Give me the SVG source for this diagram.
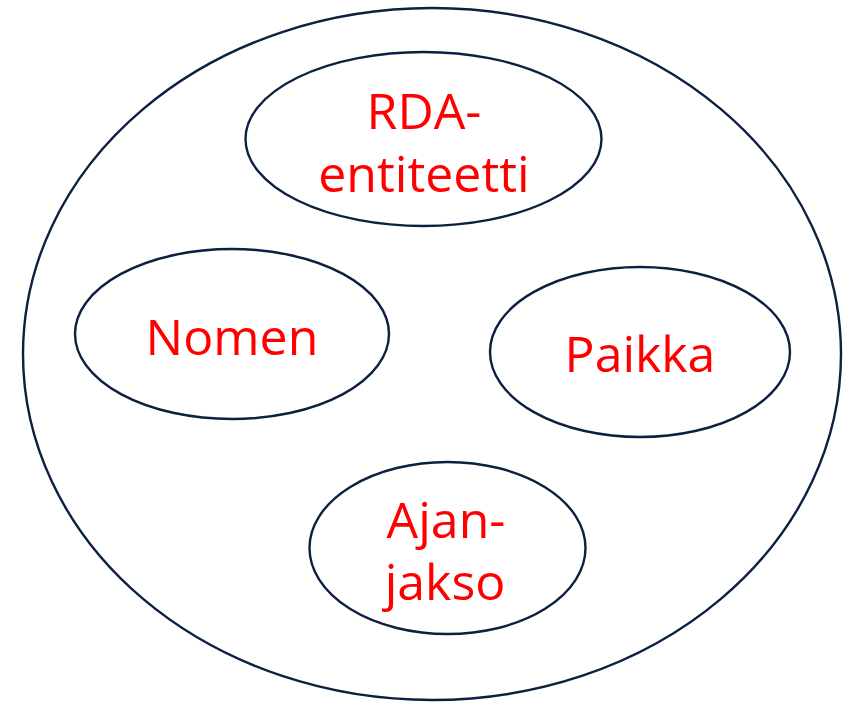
<svg xmlns="http://www.w3.org/2000/svg" width="848" height="708" viewBox="0 0 848 708">
<style>
.e{fill:#fff;stroke:#0c2040;stroke-width:2.4}
.t{font-family:"Open Sans","Noto Sans",sans-serif;font-size:50px;fill:#ff0000;text-anchor:middle}
</style>
<rect width="848" height="708" fill="#fff"/>
<g id="outer"><ellipse class="e" cx="432" cy="354" rx="409" ry="346"/></g>
<g id="rda"><ellipse class="e" cx="423.5" cy="139" rx="178" ry="87"/>
<text class="t" x="424" y="129">RDA-</text><text class="t" x="424" y="192">entiteetti</text></g>
<g id="nomen"><ellipse class="e" cx="232" cy="334" rx="157" ry="85"/>
<text class="t" x="232" y="355">Nomen</text></g>
<g id="paikka"><ellipse class="e" cx="640" cy="352" rx="150" ry="85"/>
<text class="t" x="640" y="372">Paikka</text></g>
<g id="ajanjakso"><ellipse class="e" cx="447.5" cy="548" rx="138" ry="86"/>
<text class="t" x="446" y="538">Ajan-</text><text class="t" x="445" y="600">jakso</text></g>
<g id="connectors"/>
</svg>
